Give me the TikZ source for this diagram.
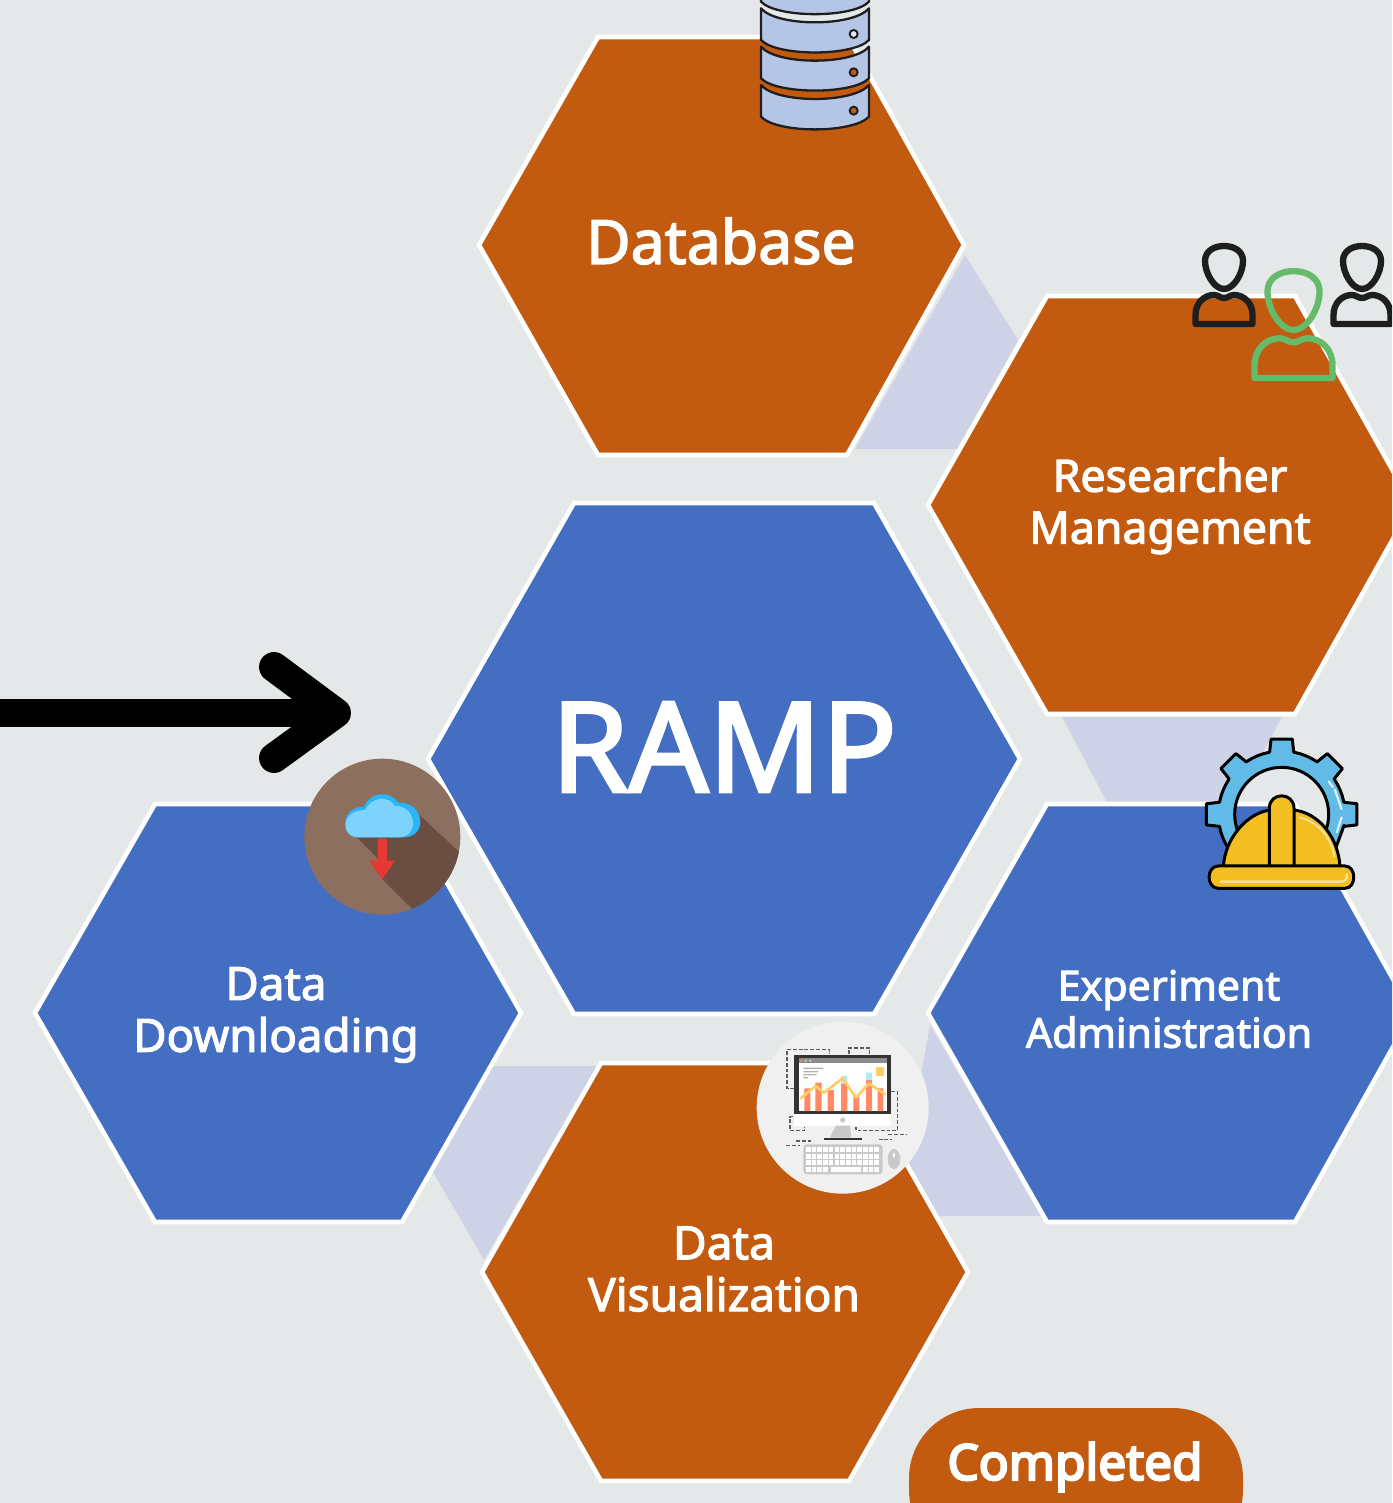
\documentclass[tikz,border=0pt]{standalone}
\usepackage{fontspec}
\setmainfont{Noto Sans}
\newfontfamily\labelfont{Noto Sans}[FakeBold=2.5]
\newfontfamily\pillfont{Noto Sans}[FakeBold=4.5]
\definecolor{bgc}{HTML}{E4E8E9}
\definecolor{orangec}{HTML}{C25A0F}
\definecolor{bluec}{HTML}{436EC2}
\definecolor{lavc}{HTML}{CDD2E6}
\definecolor{dbc}{HTML}{B4C5E6}
\definecolor{greenc}{HTML}{66BB6A}
\definecolor{inkc}{HTML}{1E1E1E}
\definecolor{gearc}{HTML}{62BBE6}
\definecolor{hatc}{HTML}{F2BE22}
\definecolor{hatl}{HTML}{F7DF94}
\definecolor{brownc}{HTML}{8D6F5F}
\definecolor{brownd}{HTML}{6B4E42}
\definecolor{cloudl}{HTML}{7DD3FC}
\definecolor{cloudd}{HTML}{29B6F6}
\definecolor{redc}{HTML}{E53935}
\definecolor{barc}{HTML}{FF8A65}
\definecolor{yelc}{HTML}{FFCC66}
\definecolor{tealc}{HTML}{B2EBF2}
\definecolor{greyc}{HTML}{C9C9C9}
\definecolor{monc}{HTML}{333333}
\tikzset{
  hexo/.style={fill=orangec,draw=white,line width=2.6pt,line join=miter},
  hexb/.style={fill=bluec,draw=white,line width=2.6pt,line join=miter},
  link/.style={fill=lavc,draw=none},
  label/.style={text=white,align=center,inner sep=0pt},
  slice/.style={fill=dbc,draw=inkc,line width=1.3pt,line join=round},
  person/.style={draw=#1,line width=3.6pt,line join=round},
  icon/.style={draw=black,line width=1.7pt,line join=round},
  dashline/.style={draw=monc!80,line width=0.65pt,dash pattern=on 2.2pt off 1.1pt},
}
\newcommand{\personicon}[1]{%
  \path[person=#1] (0,46) .. controls (-10,46) and (-19,30) .. (-19,18) .. controls (-19,8) and (-10,3) .. (0,3) .. controls (10,3) and (19,8) .. (19,18) .. controls (19,30) and (10,46) .. (0,46) -- cycle;
  \path[person=#1] (-28.5,81) -- (-28.5,72) .. controls (-28.5,60) and (-20,52) .. (-10,52) .. controls (-6,52) and (-4,55) .. (0,55) .. controls (4,55) and (6,52) .. (10,52) .. controls (20,52) and (28.5,60) .. (28.5,72) -- (28.5,81) -- cycle;
}
\begin{document}
\begin{tikzpicture}[x=0.02cm,y=-0.02cm]
\useasboundingbox (0,0) rectangle (1392,1503);
\clip (0,0) rectangle (1392,1503);
\fill[bgc] (0,0) rectangle (1392,1503);

% linking bands
\path[link] (965,255) -- (1018,340) -- (958,449) -- (855,449) -- cycle;
\path[link] (1062,717) -- (1282,717) -- (1235,804) -- (1108,804) -- cycle;
\path[link] (930,1025) -- (1042,1216) -- (935,1216) -- (905,1165) -- cycle;
\path[link] (490,1066) -- (597,1066) -- (484,1260) -- (432,1170) -- cycle;

% hexagons
\path[hexo] (598,37) -- (848,37) -- (964,245) -- (847,455) -- (598,455) -- (479,245) -- cycle;
\path[hexo] (1047,296) -- (1295,296) -- (1412,505) -- (1295,714) -- (1047,714) -- (928,505) -- cycle;
\path[hexb] (574,503) -- (874,503) -- (1020,759) -- (874,1014) -- (574,1014) -- (428,759) -- cycle;
\path[hexb] (155,804) -- (402,804) -- (521,1013) -- (402,1222) -- (155,1222) -- (35,1013) -- cycle;
\path[hexb] (1047,804) -- (1295,804) -- (1412,1013) -- (1295,1222) -- (1047,1222) -- (928,1013) -- cycle;
\path[hexo] (601,1063) -- (849,1063) -- (968,1272) -- (849,1481) -- (601,1481) -- (482,1272) -- cycle;

% labels
\node[label,font=\labelfont\fontsize{34.6}{44}\selectfont] (database) at (721,241) {Database};
\node[label,font=\labelfont\fontsize{25.4}{29.5}\selectfont] (researcher) at (1170,506) {Researcher\\Management};
\node[label,font=\labelfont\fontsize{71}{80}\selectfont] (ramp) at (724,747) {RAMP};
\node[label,font=\labelfont\fontsize{26}{29.5}\selectfont] (download) at (276,1015) {Data\\Downloading};
\node[label,font=\labelfont\fontsize{23.4}{27}\selectfont] (experiment) at (1169,1009) {Experiment\\Administration};
\node[label,font=\labelfont\fontsize{26.2}{29.5}\selectfont] (visual) at (724,1269) {Data\\Visualization};

% completed pill
\path[fill=orangec,rounded corners=40pt] (909,1408) rectangle (1243,1560);
\node[label,font=\pillfont\fontsize{28.2}{30}\selectfont] (completed) at (1075,1467) {Completed};

% arrow
\coordinate (arrowstart) at (0,713);
\coordinate (arrowtip) at (336,713);
\coordinate (arrowup) at (274,667);
\coordinate (arrowdown) at (274,758);
\draw[line width=16pt] (arrowstart) -- (arrowtip);
\draw[line width=17pt,line cap=round,line join=round] (arrowup) -- (arrowtip) -- (arrowdown);

% database icon
\begin{scope}[shift={(740,0)},scale=0.3333]
  \path[slice] (63,-30) -- (63,5) .. controls (110,55) and (340,55) .. (387,5) -- (387,-30) -- cycle;
  \path[slice] (63,25) -- (63,120) .. controls (110,170) and (340,170) .. (387,120) -- (387,25) .. controls (340,81) and (110,81) .. (63,25) -- cycle;
  \path[slice] (63,140) -- (63,235) .. controls (110,284) and (340,284) .. (387,235) -- (387,140) .. controls (340,196) and (110,196) .. (63,140) -- cycle;
  \path[slice] (63,255) -- (63,350) .. controls (110,401) and (340,401) .. (387,350) -- (387,255) .. controls (340,311) and (110,311) .. (63,255) -- cycle;
  \draw[fill=bgc,draw=inkc,line width=1.1pt] (341,102) circle (12);
  \draw[fill=orangec,draw=inkc,line width=1.1pt] (341,217) circle (12);
  \draw[fill=orangec,draw=inkc,line width=1.1pt] (341,332) circle (12);
\end{scope}

% people icons
\begin{scope}[shift={(1224,243)}]\personicon{inkc}\end{scope}
\begin{scope}[shift={(1362,243)}]\personicon{inkc}\end{scope}
\begin{scope}[shift={(1293.5,267)},scale=1.37]\personicon{greenc}\end{scope}

% gear and helmet
\begin{scope}[shift={(1190,725)},scale=0.3333]
  \begin{scope}[shift={(275,268)}]
    \path[icon,fill=gearc,even odd rule] (10:190) -- (0+11:190)
      \foreach \a in {0,-45,-90,-135,-180} {
        -- ({\a+11}:190) -- ({\a+8}:228) -- ({\a-8}:228) -- ({\a-11}:190)
        -- ({\a-17}:190) -- ({\a-22.5}:190) -- ({\a-28}:190)
      } -- (150:190) -- (130:190) -- (90:190) -- (50:190) -- (30:190) -- cycle (0,0) circle (141);
    \draw[white!80!gearc,line width=1.2pt,line cap=round] (-35:172) -- (-28:174) (-25:176) -- (-5:180) (3:180) -- (18:174);
  \end{scope}
  \path[icon,fill=hatc] (100,425) .. controls (105,340) and (170,265) .. (240,255) -- (312,255) .. controls (390,265) and (445,340) .. (450,425) -- cycle;
  \path[icon,fill=hatc] (238,425) -- (238,250) .. controls (238,200) and (312,200) .. (312,250) -- (312,425) -- cycle;
  \draw[hatl,line width=1.2pt,line cap=round] (330,278) .. controls (385,290) and (425,340) .. (433,395);
  \path[icon,fill=hatc] (85,423) -- (465,423) .. controls (500,423) and (500,490) .. (465,490) -- (85,490) .. controls (48,490) and (48,423) .. (85,423) -- cycle;
  \draw[hatl,line width=1.4pt,line cap=round] (92,470) -- (455,470) .. controls (465,470) and (472,462) .. (470,448);
\end{scope}

% download icon
\begin{scope}[shift={(295,750)},scale=0.3333]
  \coordinate (dlc) at (262,260);
  \fill[brownc] (dlc) circle (234);
  \begin{scope}
    \clip (dlc) circle (234);
    \fill[brownd] (185,262) -- (245,322) -- (262,388) -- (400,526) -- (540,526) -- (540,350) -- (368,190) -- cycle;
  \end{scope}
  \fill[cloudd] (190,262) -- (325,262) .. controls (400,262) and (390,155) .. (310,158) .. controls (285,120) and (225,125) .. (207,170) .. controls (135,170) and (135,262) .. (190,262) -- cycle;
  \fill[cloudl] (190,262) -- (310,262) .. controls (375,262) and (365,165) .. (300,168) .. controls (280,135) and (230,140) .. (210,180) .. controls (135,180) and (135,262) .. (190,262) -- cycle;
  \fill[redc] (248,266) -- (276,266) -- (276,332) -- (300,332) -- (262,388) -- (222,332) -- (248,332) -- cycle;
\end{scope}

% visualization icon
\begin{scope}[shift={(750,1015)},scale=0.3333]
  \coordinate (vzc) at (278,278);
  \fill[white!94!black] (vzc) circle (258);
  \draw[dashline] (133,220) -- (111,220) -- (111,103) -- (238,103) -- (238,118);
  \draw[dashline] (297,118) -- (297,99) -- (358,99) -- (358,118);
  \draw[dashline] (424,230) -- (443,230) -- (443,346) -- (318,346) -- (318,335);
  \draw[dashline] (130,305) -- (120,305) -- (120,346) -- (163,346) -- (163,335);
  \draw[dashline] (108,391) -- (150,391) (138,378) -- (190,378);
  \draw[dashline] (386,373) -- (425,373) (415,359) -- (470,359);
  \fill[white] (132,290) rectangle (424,332);
  \fill[monc] (132,120) rectangle (424,296);
  \fill[white] (146,130) rectangle (410,288);
  \fill[black!45] (146,130) rectangle (410,145);
  \fill[barc] (153,137) circle (3.5);
  \fill[yelc] (167,137) circle (3.5);
  \fill[tealc] (181,137) circle (3.5);
  \fill[black!30] (160,158) rectangle (220,162) (160,168) rectangle (205,172) (160,177) rectangle (200,181) (160,186) rectangle (175,190);
  \fill[barc] (163,220) rectangle (181,288) (196,203) rectangle (215,288) (233,225) rectangle (252,288) (273,205) rectangle (292,288) (310,245) rectangle (328,288) (348,195) rectangle (366,288) (383,220) rectangle (400,288);
  \fill[tealc] (273,183) rectangle (292,205) (348,173) rectangle (366,195);
  \fill[yelc] (378,155) rectangle (403,182);
  \draw[yelc,line width=1.5pt,line join=round,line cap=round] (152,250) -- (197,213) -- (222,233) -- (278,190) -- (318,248) -- (357,205) -- (405,238);
  \fill[white] (132,296) rectangle (424,332);
  \fill[greyc] (278,315) circle (8);
  \fill[greyc] (258,332) -- (300,332) -- (304,368) -- (240,368) -- cycle;
  \fill[monc] (222,368) rectangle (335,376);
  \fill[greyc,rounded corners=2pt] (160,388) rectangle (398,478);
  \foreach \c in {0,...,12} \foreach \r in {0,1,2} {
    \fill[white] ({168+\c*17.1},{396+\r*20}) rectangle ({182+\c*17.1},{411+\r*20});
  }
  \foreach \c in {0,1,2,3,10,11,12} {
    \fill[white] ({168+\c*17.1},456) rectangle ({182+\c*17.1},471);
  }
  \fill[white] (243,456) rectangle (333,471);
  \fill[greyc] (432,432) ellipse (19 and 30);
  \fill[white] (432,421) ellipse (3 and 7);
\end{scope}
\end{tikzpicture}
\end{document}
